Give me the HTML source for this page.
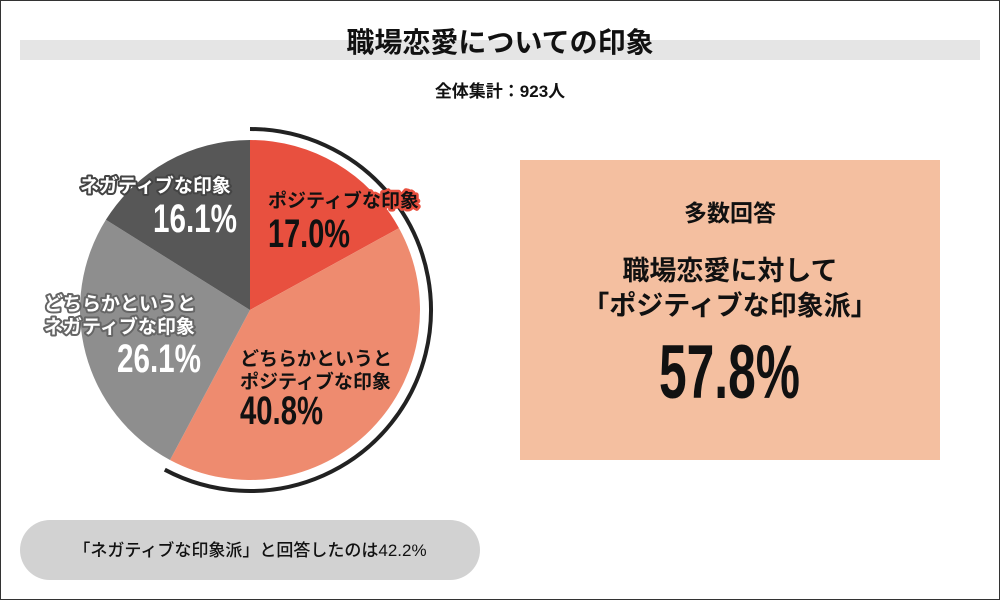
<!DOCTYPE html>
<html><head><meta charset="utf-8"><style>
html,body{margin:0;padding:0;background:#fff}
svg{display:block}
text{font-family:"Liberation Sans","Noto Sans CJK JP",sans-serif;font-weight:bold}
.n{font-family:"Liberation Sans Narrow","Liberation Sans",sans-serif;font-weight:bold}
</style></head><body>
<svg width="1000" height="600" viewBox="0 0 1000 600" xmlns="http://www.w3.org/2000/svg">
<rect x="0.5" y="0.5" width="999" height="599" fill="#fff" stroke="#333" stroke-width="1"/>
<rect x="20" y="40" width="960" height="20" fill="#e5e5e5"/>
<text x="500" y="52" font-size="28" text-anchor="middle" fill="#111">職場恋愛についての印象</text>
<text x="500" y="97" font-size="17" text-anchor="middle" fill="#111">全体集計：923人</text>

<path d="M250,310 L250,140 A170,170 0 0 1 398.97,228.1 Z" fill="#e8503f"/>
<path d="M250,310 L398.97,228.1 A170,170 0 0 1 170,460 Z" fill="#ee8b6f"/>
<path d="M250,310 L170,460 A170,170 0 0 1 105.9,219.8 Z" fill="#8e8e8e"/>
<path d="M250,310 L105.9,219.8 A170,170 0 0 1 250,140 Z" fill="#575757"/>
<path d="M250,129 A181,181 0 1 1 164.8,469.7" fill="none" stroke="#222" stroke-width="4"/>

<g font-size="19" stroke-linejoin="round">
<text x="268" y="207" fill="#111" stroke="#e8503f" stroke-width="5" paint-order="stroke">ポジティブな印象</text>
<text x="80" y="192" fill="#fff" stroke="#444" stroke-width="4" paint-order="stroke">ネガティブな印象</text>
<text x="44" y="310" fill="#fff" stroke="#666" stroke-width="4" paint-order="stroke">どちらかというと</text>
<text x="44" y="333" fill="#fff" stroke="#666" stroke-width="4" paint-order="stroke">ネガティブな印象</text>
<text x="240" y="365" fill="#111">どちらかというと</text>
<text x="240" y="388" fill="#111">ポジティブな印象</text>
</g>
<g font-size="40">
<text class="n" x="268" y="247" fill="#111" textLength="82" lengthAdjust="spacingAndGlyphs">17.0%</text>
<text class="n" x="153" y="232" fill="#fff" textLength="84" lengthAdjust="spacingAndGlyphs">16.1%</text>
<text class="n" x="117" y="372" fill="#fff" textLength="84" lengthAdjust="spacingAndGlyphs">26.1%</text>
<text class="n" x="240" y="424" fill="#111" textLength="83" lengthAdjust="spacingAndGlyphs">40.8%</text>
</g>

<rect x="520" y="160" width="420" height="300" fill="#f4bfa0"/>
<text x="730" y="221" font-size="23" text-anchor="middle" fill="#111">多数回答</text>
<text x="730" y="280" font-size="27" text-anchor="middle" fill="#111">職場恋愛に対して</text>
<text x="730" y="315" font-size="27" text-anchor="middle" fill="#111">「ポジティブな印象派」</text>
<text class="n" x="659" y="398" font-size="76" fill="#111" textLength="141" lengthAdjust="spacingAndGlyphs">57.8%</text>

<rect x="20" y="520" width="460" height="60" rx="30" fill="#d2d2d2"/>
<text x="250" y="556" font-size="17" text-anchor="middle" fill="#111" style="font-weight:500">「ネガティブな印象派」と回答したのは42.2%</text>
</svg>
</body></html>
